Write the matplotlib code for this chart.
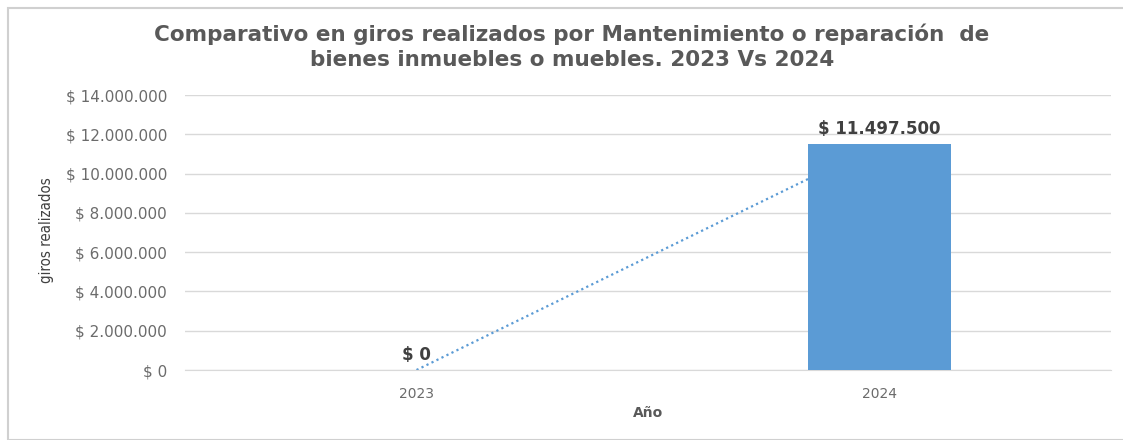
import numpy as np
import matplotlib.pyplot as plt
from matplotlib.patches import Rectangle
from matplotlib.ticker import FuncFormatter

# datos del grafico
anios = ['2023', '2024']
giros = [0, 11497500]
etiquetas = ['$ 0', '$ 11.497.500']
titulo = 'Comparativo en giros realizados por Mantenimiento o reparación  de\nbienes inmuebles o muebles. 2023 Vs 2024'

plt.rcParams['font.family'] = ['DejaVu Sans']

fig = plt.figure(figsize=(11.23, 4.40), dpi=100)
W, H = 1123, 440
ax = fig.add_axes([185 / W, 1 - 370 / H, (1111 - 185) / W, (370 - 95) / H])

# marco exterior
fig.patches.append(Rectangle((8 / W, 0), 1, 1 - 8 / H, transform=fig.transFigure,
                             fill=False, edgecolor='#d0d0d0', linewidth=1.5))

x = np.arange(len(anios))
ax.bar(x, giros, width=0.31, color='#5b9bd5', zorder=3)

# linea de tendencia lineal
m, b = np.polyfit(x, giros, 1)
xt = np.array([0, 1])
ax.plot(xt, m * xt + b, linestyle=(0, (1, 1.5)), color='#5b9bd5', linewidth=1.6, zorder=2)

for xi, v, t in zip(x, giros, etiquetas):
    ax.text(xi, v + 300000, t, ha='center', va='bottom', fontsize=12,
            fontweight='bold', color='#404040', zorder=4)

ax.set_xlim(-0.5, 1.5)
ax.set_ylim(0, 14000000)
ax.set_yticks(np.arange(0, 14000001, 2000000))
ax.yaxis.set_major_formatter(FuncFormatter(lambda v, p: '$ ' + f'{int(v):,}'.replace(',', '.')))
ax.set_xticks(x)
ax.set_xticklabels(anios)
ax.grid(axis='y', color='#d9d9d9', linewidth=1, zorder=0)
ax.tick_params(axis='both', length=0, labelsize=10, colors='#6b6b6b')
ax.tick_params(axis='y', labelsize=11, pad=13)
ax.tick_params(axis='x', pad=12)
for s in ['top', 'right', 'left']:
    ax.spines[s].set_visible(False)
ax.spines['bottom'].set_color('#d9d9d9')

ax.set_xlabel('Año', fontsize=10, fontweight='bold', color='#595959', labelpad=4)
fig.text(47 / W, 1 - 230 / H, 'giros realizados', rotation=90, ha='center', va='center',
         fontsize=10.8, color='#404040', fontstretch='condensed')

fig.text(572 / W, 1 - 47 / H, titulo, ha='center', va='center', fontsize=15.5,
         fontweight='bold', color='#595959', linespacing=1.32)

plt.savefig('out.png', dpi=100)
